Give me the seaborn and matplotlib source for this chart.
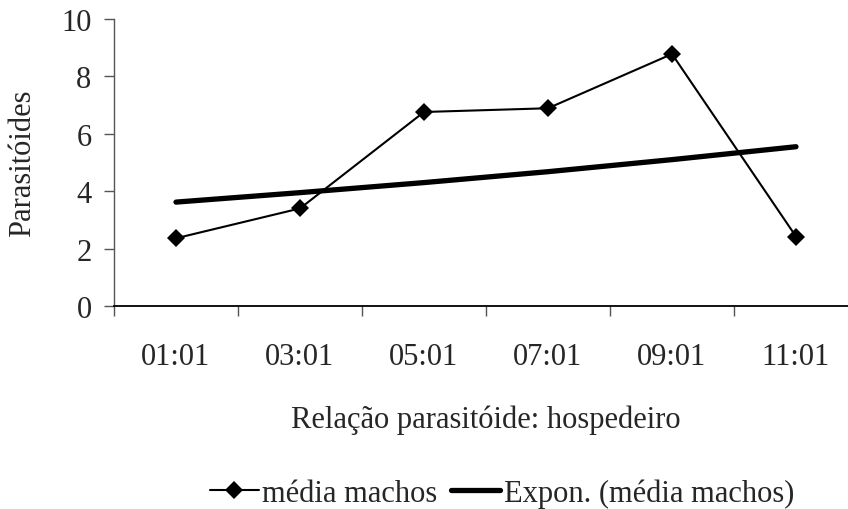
import numpy as np
import pandas as pd
import matplotlib
matplotlib.use("Agg")
import matplotlib.pyplot as plt
import seaborn as sns

# dados
categorias = ["01:01", "03:01", "05:01", "07:01", "09:01", "11:01"]
media_machos = [2.36, 3.40, 6.76, 6.89, 8.78, 2.42]
# linha de tendência exponencial (valores lidos em cada categoria)
tendencia_expon = [3.62, 3.95, 4.30, 4.68, 5.10, 5.55]

df = pd.DataFrame({"Relacao": categorias,
                   "media": media_machos,
                   "expon": tendencia_expon})

sns.set_style("white")
plt.rcParams["font.family"] = ["Liberation Serif", "DejaVu Serif"]
fs = 22
plt.rcParams["font.size"] = fs

W, H = 848, 510
fig = plt.figure(figsize=(W / 100, H / 100), dpi=100)
ax = fig.add_axes([114 / W, 1 - 307 / H, 744 / W, 287 / H])

sns.lineplot(data=df, x="Relacao", y="expon", ax=ax, color="black",
             linewidth=3.8, sort=False, label="Expon. (média machos)", zorder=2)
sns.lineplot(data=df, x="Relacao", y="media", ax=ax, color="black",
             linewidth=1.5, marker="D", markersize=9, markeredgewidth=0,
             sort=False, label="média machos", zorder=3)

ax.set_xlim(-0.5, len(categorias) - 0.5)
ax.set_ylim(0, 10)
ax.set_yticks([0, 2, 4, 6, 8, 10])
ax.set_xticks(range(len(categorias)))
ax.set_xticklabels(categorias)
ax.set_xticks(np.arange(-0.5, len(categorias), 1.0), minor=True)

ax.tick_params(axis="x", which="major", length=0, pad=26, labelsize=fs)
ax.tick_params(axis="x", which="minor", length=7.2, width=1, color="#555555",
               direction="out", bottom=True)
ax.tick_params(axis="y", length=7.2, width=1, color="#555555",
               direction="out", left=True, pad=9, labelsize=fs)

for s in ["top", "right"]:
    ax.spines[s].set_visible(False)
ax.spines["left"].set_color("#555555")
ax.spines["left"].set_linewidth(1)
ax.spines["bottom"].set_color("black")
ax.spines["bottom"].set_linewidth(1.3)
ax.spines["bottom"].set_zorder(4)

ax.set_xlabel("Relação parasitóide: hospedeiro", fontsize=fs, labelpad=24)
ax.set_ylabel("Parasitóides", fontsize=fs)
ax.yaxis.set_label_coords(-(114 - 37) / 744, 0.5)

handles, labels = ax.get_legend_handles_labels()
ax.get_legend().remove()
order = [labels.index("média machos"), labels.index("Expon. (média machos)")]
fig.legend([handles[i] for i in order], [labels[i] for i in order],
           loc="center", bbox_to_anchor=(502 / W, 1 - 494 / H), ncol=2,
           frameon=False, fontsize=fs, handlelength=1.6, handletextpad=0.12,
           columnspacing=0.45, borderpad=0)

fig.savefig("out.png", dpi=100)
